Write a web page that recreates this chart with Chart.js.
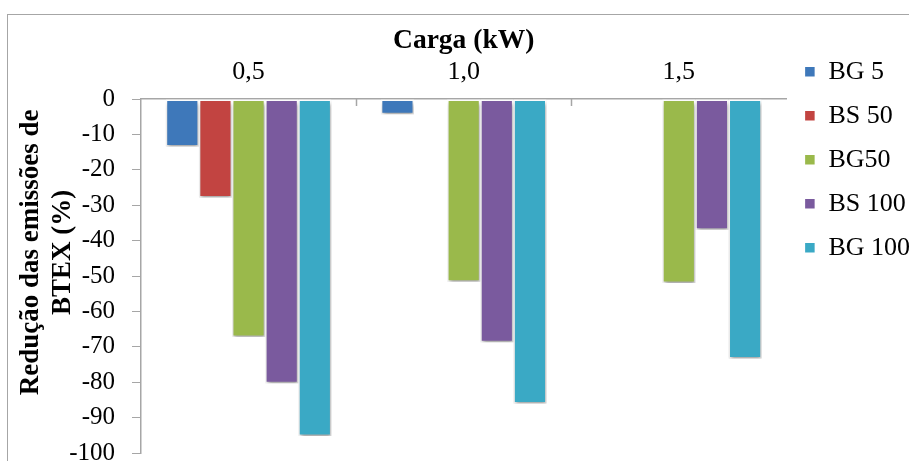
<!DOCTYPE html>
<html lang="pt">
<head>
  <meta charset="UTF-8">
  <title>Redução das emissões de BTEX</title>
  <style>
    html, body { margin: 0; padding: 0; background: #fff; }
    .wrap { position: relative; width: 909px; height: 461px; overflow: hidden; }
    .frame {
      position: absolute; left: 7px; top: 14px; width: 1000px; height: 600px;
      border-left: 1px solid #a6a6a6; border-top: 1px solid #a6a6a6;
    }
    canvas { position: absolute; left: 0; top: 0; }
  </style>
</head>
<body>
  <div class="wrap">
    <div class="frame"></div>
    <canvas id="chart1" width="909" height="485"></canvas>
  </div>

  <script src="https://cdn.jsdelivr.net/npm/chart.js@4/dist/chart.umd.min.js"></script>
  <script>
    // dados
    const cargas = ["0,5", "1,0", "1,5"];
    const bg5 = [-13.4, -4.3, null];
    const bs50 = [-27.8, null, null];
    const bg50 = [-67.2, -51.6, -52.0];
    const bs100 = [-80.3, -68.7, -36.9];
    const bg100 = [-95.2, -86.0, -73.3];
    const yTicks = [0, -10, -20, -30, -40, -50, -60, -70, -80, -90, -100];

    const serif = "'Liberation Serif', 'Times New Roman', serif";

    // sombra leve nas barras, como no Excel
    const barShadow = {
      id: "barShadow",
      beforeDatasetsDraw(chart) {
        const ctx = chart.ctx;
        ctx.save();
        ctx.shadowColor = "rgba(0,0,0,0.35)";
        ctx.shadowBlur = 4;
        ctx.shadowOffsetX = 1;
        ctx.shadowOffsetY = 3;
      },
      afterDatasetsDraw(chart) {
        chart.ctx.restore();
      }
    };

    // marcas pequenas entre as categorias, para dentro do gráfico
    const xTickMarks = {
      id: "xTickMarks",
      afterDraw(chart) {
        const x = chart.scales.x;
        const ctx = chart.ctx;
        const n = x.ticks.length;
        const step = (x.right - x.left) / n;
        ctx.save();
        ctx.strokeStyle = "#a6a6a6";
        ctx.lineWidth = 1.5;
        ctx.beginPath();
        for (let i = 1; i < n; i++) {
          const px = Math.round(x.left + i * step) + 0.5;
          ctx.moveTo(px, x.bottom);
          ctx.lineTo(px, x.bottom + 7);
        }
        ctx.stroke();
        ctx.restore();
      }
    };

    function serie(label, data, color) {
      return {
        label: label,
        data: data,
        backgroundColor: color,
        borderColor: "#ffffff",
        borderWidth: 1.5,
        borderSkipped: false
      };
    }

    // espaços à esquerda: sobem o título um pouco, como no original
    const recuo = "       ";

    new Chart(document.getElementById("chart1"), {
      type: "bar",
      data: {
        labels: cargas,
        datasets: [
          serie("BG 5", bg5, "#3e78ba"),
          serie("BS 50", bs50, "#c24441"),
          serie("BG50", bg50, "#9ab94b"),
          serie("BS 100", bs100, "#7a5a9e"),
          serie("BG 100", bg100, "#3aa9c5")
        ]
      },
      options: {
        responsive: false,
        animation: false,
        categoryPercentage: 0.77,
        barPercentage: 1.0,
        layout: { padding: { top: 24, left: 16, right: -11, bottom: 0 } },
        plugins: {
          tooltip: { enabled: false },
          legend: {
            position: "right",
            align: "start",
            title: { display: true, text: " ", padding: 0, font: { family: serif, size: 14 } },
            labels: {
              boxWidth: 11,
              boxHeight: 11,
              padding: 18,
              color: "#000",
              font: { family: serif, size: 26 }
            }
          }
        },
        scales: {
          x: {
            position: "top",
            afterFit(axis) { axis.height = 75; },
            grid: { drawOnChartArea: false, drawTicks: false },
            border: { display: true, color: "#a6a6a6", width: 1.5 },
            ticks: { color: "#000", padding: 11, font: { family: serif, size: 26 } },
            title: {
              display: true,
              text: "Carga (kW)",
              color: "#000",
              padding: { top: 0, bottom: 0 },
              font: { family: serif, size: 27.5, weight: "bold" }
            }
          },
          y: {
            min: -100,
            max: 0,
            afterBuildTicks(axis) {
              axis.ticks = yTicks.map(v => ({ value: v }));
            },
            afterFit(axis) { axis.width = 125; },
            grid: { drawOnChartArea: false, drawTicks: true, tickLength: 9, color: "#a6a6a6" },
            border: { display: true, color: "#a6a6a6", width: 1.5 },
            ticks: { color: "#000", padding: 17, font: { family: serif, size: 25 } },
            title: {
              display: true,
              text: [recuo + "Redução das emissões de", recuo + "BTEX (%)"],
              color: "#000",
              padding: { top: 0, bottom: 0 },
              font: { family: serif, size: 27, weight: "bold", lineHeight: 1.15 }
            }
          }
        }
      },
      plugins: [barShadow, xTickMarks]
    });
  </script>
</body>
</html>
